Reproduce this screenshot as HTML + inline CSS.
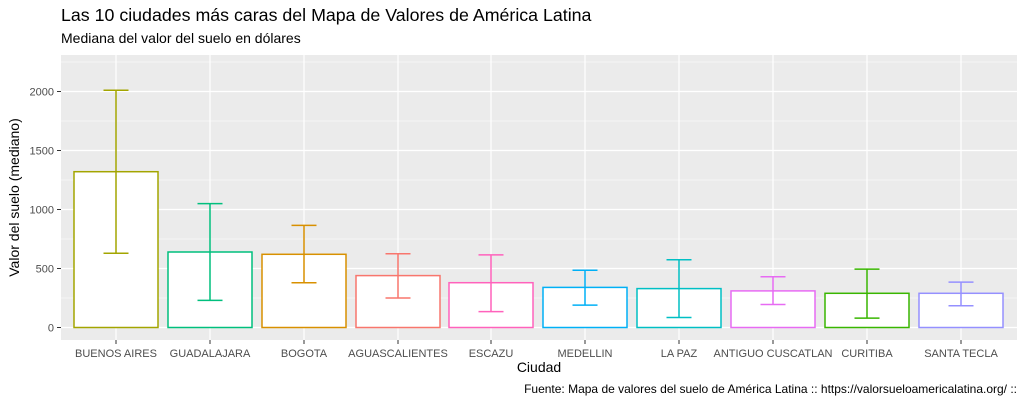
<!DOCTYPE html>
<html><head><meta charset="utf-8"><style>
body{margin:0;background:#fff;}
svg{display:block;font-family:"Liberation Sans",sans-serif;}
</style></head><body>
<svg width="1024" height="404" viewBox="0 0 1024 404" xmlns="http://www.w3.org/2000/svg">
<rect width="1024" height="404" fill="#fff"/>
<text x="61" y="21" font-size="17.8" fill="#000">Las 10 ciudades más caras del Mapa de Valores de América Latina</text>
<text x="61" y="43" font-size="14" fill="#000">Mediana del valor del suelo en dólares</text>
<rect x="61" y="55" width="956" height="285" fill="#EBEBEB"/>
<g stroke="#fff" stroke-width="0.6">
<line x1="61" x2="1017" y1="298" y2="298"/><line x1="61" x2="1017" y1="239" y2="239"/><line x1="61" x2="1017" y1="180" y2="180"/><line x1="61" x2="1017" y1="121" y2="121"/><line x1="61" x2="1017" y1="62" y2="62"/>
</g>
<g stroke="#fff" stroke-width="1.2">
<line x1="61" x2="1017" y1="327.5" y2="327.5"/><line x1="61" x2="1017" y1="268.5" y2="268.5"/><line x1="61" x2="1017" y1="209.5" y2="209.5"/><line x1="61" x2="1017" y1="150.5" y2="150.5"/><line x1="61" x2="1017" y1="91.5" y2="91.5"/>
<line x1="116" x2="116" y1="55" y2="340"/><line x1="210" x2="210" y1="55" y2="340"/><line x1="304" x2="304" y1="55" y2="340"/><line x1="398" x2="398" y1="55" y2="340"/><line x1="491" x2="491" y1="55" y2="340"/><line x1="585" x2="585" y1="55" y2="340"/><line x1="679" x2="679" y1="55" y2="340"/><line x1="773" x2="773" y1="55" y2="340"/><line x1="867" x2="867" y1="55" y2="340"/><line x1="961" x2="961" y1="55" y2="340"/>
</g>
<g stroke-width="1.5" fill="#fff">
<rect x="74" y="171.7" width="84" height="155.8" stroke="#A3A500"/>
<rect x="168" y="252" width="84" height="75.5" stroke="#00BF7D"/>
<rect x="262" y="254.3" width="84" height="73.2" stroke="#D89000"/>
<rect x="356" y="275.6" width="84" height="51.9" stroke="#F8766D"/>
<rect x="449" y="282.7" width="84" height="44.8" stroke="#FF62BC"/>
<rect x="543" y="287.4" width="84" height="40.1" stroke="#00B0F6"/>
<rect x="637" y="288.6" width="84" height="38.9" stroke="#00BFC4"/>
<rect x="731" y="290.9" width="84" height="36.6" stroke="#E76BF3"/>
<rect x="825" y="293.3" width="84" height="34.2" stroke="#39B600"/>
<rect x="919" y="293.3" width="84" height="34.2" stroke="#9590FF"/>
</g>
<g stroke-width="1.5" fill="none">
<path d="M116 90.3V253.2M103.5 90.3H128.5M103.5 253.2H128.5" stroke="#A3A500"/>
<path d="M210 203.6V300.4M197.5 203.6H222.5M197.5 300.4H222.5" stroke="#00BF7D"/>
<path d="M304 225.4V282.7M291.5 225.4H316.5M291.5 282.7H316.5" stroke="#D89000"/>
<path d="M398 253.8V298M385.5 253.8H410.5M385.5 298H410.5" stroke="#F8766D"/>
<path d="M491 254.9V311.6M478.5 254.9H503.5M478.5 311.6H503.5" stroke="#FF62BC"/>
<path d="M585 270.3V305.1M572.5 270.3H597.5M572.5 305.1H597.5" stroke="#00B0F6"/>
<path d="M679 259.7V317.5M666.5 259.7H691.5M666.5 317.5H691.5" stroke="#00BFC4"/>
<path d="M773 276.8V304.5M760.5 276.8H785.5M760.5 304.5H785.5" stroke="#E76BF3"/>
<path d="M867 269.1V318.1M854.5 269.1H879.5M854.5 318.1H879.5" stroke="#39B600"/>
<path d="M961 282.1V305.7M948.5 282.1H973.5M948.5 305.7H973.5" stroke="#9590FF"/>
</g>
<g stroke="#333" stroke-width="1">
<line x1="57" x2="61" y1="327.5" y2="327.5"/><line x1="57" x2="61" y1="268.5" y2="268.5"/><line x1="57" x2="61" y1="209.5" y2="209.5"/><line x1="57" x2="61" y1="150.5" y2="150.5"/><line x1="57" x2="61" y1="91.5" y2="91.5"/>
<line x1="116" x2="116" y1="340" y2="344"/><line x1="210" x2="210" y1="340" y2="344"/><line x1="304" x2="304" y1="340" y2="344"/><line x1="398" x2="398" y1="340" y2="344"/><line x1="491" x2="491" y1="340" y2="344"/><line x1="585" x2="585" y1="340" y2="344"/><line x1="679" x2="679" y1="340" y2="344"/><line x1="773" x2="773" y1="340" y2="344"/><line x1="867" x2="867" y1="340" y2="344"/><line x1="961" x2="961" y1="340" y2="344"/>
</g>
<g font-size="11" fill="#4D4D4D" text-anchor="end">
<text x="54" y="331.5">0</text><text x="54" y="272.5">500</text><text x="54" y="213.5">1000</text><text x="54" y="154.5">1500</text><text x="54" y="95.5">2000</text>
</g>
<g font-size="11" fill="#4D4D4D" text-anchor="middle">
<text x="116" y="357">BUENOS AIRES</text><text x="210" y="357">GUADALAJARA</text><text x="304" y="357">BOGOTA</text><text x="398" y="357">AGUASCALIENTES</text><text x="491" y="357">ESCAZU</text><text x="585" y="357">MEDELLIN</text><text x="679" y="357">LA PAZ</text><text x="773" y="357">ANTIGUO CUSCATLAN</text><text x="867" y="357">CURITIBA</text><text x="961" y="357">SANTA TECLA</text>
</g>
<text x="539" y="372" font-size="14" text-anchor="middle" fill="#000">Ciudad</text>
<text transform="translate(19,197.5) rotate(-90)" font-size="14" text-anchor="middle" fill="#000">Valor del suelo (mediano)</text>
<text x="1017" y="393" font-size="12" text-anchor="end" fill="#000">Fuente: Mapa de valores del suelo de América Latina :: https://valorsueloamericalatina.org/ ::</text>
</svg>
</body></html>
